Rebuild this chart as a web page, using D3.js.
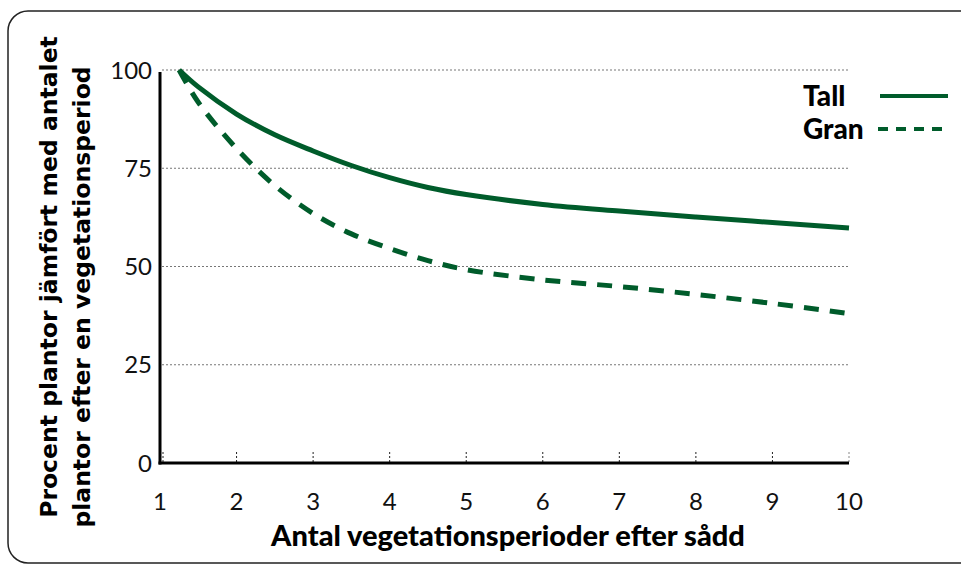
<!DOCTYPE html>
<html>
<head>
<meta charset="utf-8">
<script src="https://cdn.jsdelivr.net/npm/d3@7"></script>
<style>
  body { margin: 0; background: #fff; }
  svg { display: block; }
</style>
</head>
<body>
<div id="chart"></div>
<script>
// values
let years = [1.25, 1.5, 2, 2.5, 3, 3.5, 4, 4.5, 5, 6, 7, 8, 9, 10];
let tall  = [100, 95.7, 88.8, 83.5, 79.4, 75.7, 72.6, 70.1, 68.3, 65.8, 64.1, 62.6, 61.2, 59.8];
let gran  = [100, 91.8, 80.0, 70.6, 63.5, 58.3, 54.6, 51.5, 49.2, 46.6, 44.9, 42.9, 40.6, 38.0];
let xTicks = [1, 2, 3, 4, 5, 6, 7, 8, 9, 10];
let yTicks = [0, 25, 50, 75, 100];
let seriesNames = ["Tall", "Gran"];

let green = "#005c2b";
let W = 961, H = 566;

let svg = d3.select("#chart").append("svg")
  .attr("width", W)
  .attr("height", H);

// rounded frame, runs off right edge
svg.append("rect")
  .attr("x", 8).attr("y", 11)
  .attr("width", 1000).attr("height", 552)
  .attr("rx", 20).attr("ry", 20)
  .style("fill", "none")
  .style("stroke", "#222")
  .style("stroke-width", 1.5);

var x = d3.scaleLinear().domain([1, 10]).range([160, 849]);
var y = d3.scaleLinear().domain([0, 100]).range([463, 70]);

// dotted gridlines
svg.selectAll(".grid")
  .data(yTicks.filter(d => d > 0))
  .enter()
  .append("line")
    .attr("x1", x(1) + 2)
    .attr("x2", x(10))
    .attr("y1", d => y(d))
    .attr("y2", d => y(d))
    .style("stroke", "#777")
    .style("stroke-width", 1.2)
    .style("stroke-dasharray", "2,2");

// small dashed ticks on the x axis
svg.selectAll(".xtick")
  .data(xTicks)
  .enter()
  .append("line")
    .attr("x1", d => x(d) + (d == 1 ? 3 : 0))
    .attr("x2", d => x(d) + (d == 1 ? 3 : 0))
    .attr("y1", y(0) - 11)
    .attr("y2", y(0))
    .style("stroke", d => d == 10 ? "#888" : "#222")
    .style("stroke-width", 1)
    .style("stroke-dasharray", "2,2");

// axes lines
svg.append("line")
  .attr("x1", x(1)).attr("x2", x(1))
  .attr("y1", y(100) + 2).attr("y2", y(0) + 1.5)
  .style("stroke", "#000").style("stroke-width", 3);
svg.append("line")
  .attr("x1", x(1) - 1.5).attr("x2", x(10))
  .attr("y1", y(0)).attr("y2", y(0))
  .style("stroke", "#000").style("stroke-width", 3);

// tick labels
svg.selectAll(".ylab")
  .data(yTicks)
  .enter()
  .append("text")
    .attr("x", x(1) - 8)
    .attr("y", d => y(d))
    .attr("dy", "0.36em")
    .attr("text-anchor", "end")
    .style("font-family", "Lato, sans-serif")
    .style("font-size", "24px")
    .style("fill", "#111")
    .text(d => d);

svg.selectAll(".xlab")
  .data(xTicks)
  .enter()
  .append("text")
    .attr("x", d => x(d))
    .attr("y", 510)
    .attr("text-anchor", "middle")
    .style("font-family", "Lato, sans-serif")
    .style("font-size", "24px")
    .style("fill", "#111")
    .text(d => d);

// axis titles
svg.append("text")
  .attr("x", 508).attr("y", 546)
  .attr("text-anchor", "middle")
  .style("font-family", "Lato, sans-serif")
  .style("font-weight", "900")
  .style("font-size", "29px")
  .style("fill", "#000")
  .text("Antal vegetationsperioder efter sådd");

let yTitle = svg.append("g")
  .attr("transform", "translate(0,277) rotate(-90)");
yTitle.append("text")
  .attr("x", 0).attr("y", 57)
  .attr("text-anchor", "middle")
  .style("font-family", "'DejaVu Sans', sans-serif")
  .style("font-weight", "bold")
  .style("font-size", "23.5px")
  .style("fill", "#000")
  .text("Procent plantor jämfört med antalet");
yTitle.append("text")
  .attr("x", -20).attr("y", 90)
  .attr("text-anchor", "middle")
  .style("font-family", "'DejaVu Sans', sans-serif")
  .style("font-weight", "bold")
  .style("font-size", "23.5px")
  .style("fill", "#000")
  .text("plantor efter en vegetationsperiod");

// curves
var line = d3.line()
  .x(d => x(d[0]))
  .y(d => y(d[1]))
  .curve(d3.curveCatmullRom.alpha(0.5));

svg.append("path")
  .datum(years.map((d, i) => [d, tall[i]]))
  .attr("d", line)
  .style("fill", "none")
  .style("stroke", green)
  .style("stroke-width", 5);

svg.append("path")
  .datum(years.map((d, i) => [d, gran[i]]))
  .attr("d", line)
  .style("fill", "none")
  .style("stroke", green)
  .style("stroke-width", 5)
  .style("stroke-dasharray", "15,11");

// legend
let legend = svg.selectAll(".legend")
  .data(seriesNames)
  .enter()
  .append("g")
    .attr("transform", (d, i) => "translate(0," + (96 + i * 33) + ")");

legend.append("text")
  .attr("x", 803)
  .attr("dy", "0.36em")
  .style("font-family", "Lato, sans-serif")
  .style("font-weight", "900")
  .style("font-size", "28px")
  .style("fill", "#000")
  .text(d => d);

legend.append("line")
  .attr("x1", (d, i) => i == 1 ? 878 : 880).attr("x2", 948)
  .attr("y1", 0).attr("y2", 0)
  .style("stroke", green)
  .style("stroke-width", 4)
  .style("stroke-dasharray", (d, i) => i == 1 ? "10,8" : null);
</script>
</body>
</html>
